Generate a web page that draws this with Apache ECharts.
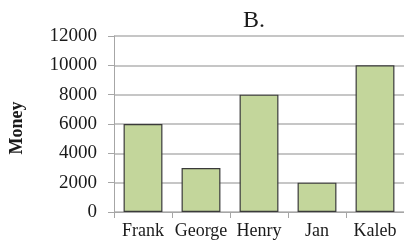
<!DOCTYPE html>
<html>
<head>
<meta charset="utf-8">
<script src="https://cdn.jsdelivr.net/npm/echarts@6/dist/echarts.min.js"></script>
<style>
  html, body { margin: 0; padding: 0; background: #fff; }
  #main { width: 404px; height: 245px; }
</style>
</head>
<body>
<div id="main"></div>
<script>
// 数据
const names = ['Frank', 'George', 'Henry', 'Jan', 'Kaleb'];
const money = [6000, 3000, 8000, 2000, 10000];
const yMin = 0;
const yMax = 12000;
const yStep = 2000;

const myChart = echarts.init(document.getElementById('main'));

const serif = '"Liberation Serif", "DejaVu Serif", serif';

var option = {
  animation: false,
  title: {
    text: 'B.',
    left: 238,
    top: 4,
    textStyle: {
      fontFamily: serif,
      fontSize: 24,
      fontWeight: 'normal',
      color: '#1a1a1a'
    }
  },
  grid: {
    left: 111,
    right: 0,
    top: 36,
    bottom: 33,
    containLabel: false
  },
  xAxis: {
    type: 'category',
    data: names,
    axisLine: { lineStyle: { color: '#a6a6a6', width: 1 } },
    axisTick: { show: true, length: 6, lineStyle: { color: '#a6a6a6' } },
    axisLabel: {
      interval: 0,
      margin: 10,
      fontFamily: serif,
      fontSize: 18,
      color: '#1a1a1a'
    }
  },
  yAxis: {
    type: 'value',
    min: yMin,
    max: yMax,
    interval: yStep,
    name: 'Money',
    nameLocation: 'middle',
    nameGap: 88,
    nameRotate: 90,
    nameTextStyle: {
      fontFamily: serif,
      fontSize: 18,
      fontWeight: 'bold',
      color: '#1a1a1a',
      padding: [0, 8, 0, 0]
    },
    axisLine: { show: true, lineStyle: { color: '#a6a6a6', width: 1 } },
    axisTick: { show: true, length: 6, lineStyle: { color: '#a6a6a6' } },
    splitLine: { show: true, lineStyle: { color: '#b3b3b3', width: 1.5 } },
    axisLabel: {
      margin: 17,
      fontFamily: serif,
      fontSize: 19,
      color: '#1a1a1a',
      formatter: function (v) { return String(v); }
    }
  },
  series: [
    {
      type: 'bar',
      data: money,
      barCategoryGap: '33%',
      itemStyle: {
        color: '#c3d69b',
        borderColor: '#3a3a3a',
        borderWidth: 1.2
      }
    }
  ]
};

myChart.setOption(option);
</script>
</body>
</html>
